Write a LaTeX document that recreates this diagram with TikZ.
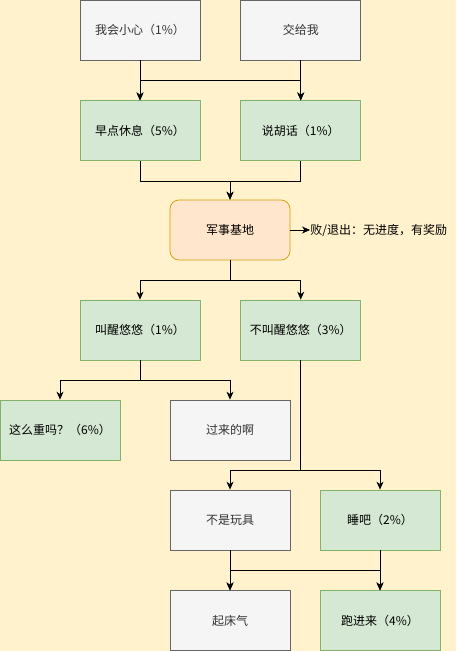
\documentclass[tikz,border=0pt]{standalone}
\usepackage{fontspec}
\setmainfont{Noto Sans CJK SC}
\usetikzlibrary{arrows.meta,positioning}
\definecolor{bgyellow}{HTML}{FFF2CC}
\definecolor{grayfill}{HTML}{F5F5F5}
\definecolor{graydraw}{HTML}{666666}
\definecolor{greenfill}{HTML}{D5E8D4}
\definecolor{greendraw}{HTML}{82B366}
\definecolor{orangefill}{HTML}{FFE6CC}
\definecolor{orangedraw}{HTML}{D79B00}
\definecolor{textgray}{HTML}{333333}
\tikzset{
  box/.style={rectangle,minimum width=120pt,minimum height=60pt,inner sep=0pt,line width=0.75pt,font=\fontsize{12}{14}\selectfont},
  graybox/.style={box,fill=grayfill,draw=graydraw,text=textgray},
  greenbox/.style={box,fill=greenfill,draw=greendraw},
  basebox/.style={box,fill=orangefill,draw=orangedraw,rounded corners=9pt},
}
\begin{document}
\begin{tikzpicture}[x=1pt,y=1pt,-{Stealth[length=8pt,width=7pt,inset=2.5pt]},line width=0.75pt,node distance=40pt]
  \useasboundingbox[fill=bgyellow] (0,0) rectangle (456,-651);
  % top row
  \node[graybox]  (A) at (140,-30)      {我会小心（1\%）};
  \node[graybox]  (B) [right=of A]      {交给我};
  \node[greenbox] (C) [below=of A]      {早点休息（5\%）};
  \node[greenbox] (D) [below=of B]      {说胡话（1\%）};
  \node[basebox]  (E) at (230,-230)     {军事基地};
  \node[anchor=west,inner sep=0pt,font=\fontsize{12}{14}\selectfont] (exit) at (310,-230) {败/退出：无进度，有奖励};
  % after the base
  \node[greenbox] (F) at (140,-330)     {叫醒悠悠（1\%）};
  \node[greenbox] (G) [right=of F]      {不叫醒悠悠（3\%）};
  \node[greenbox] (H) at (60,-430)      {这么重吗？（6\%）};
  \node[graybox]  (I) at (230,-430)     {过来的啊};
  \node[graybox]  (J) at (230,-520)     {不是玩具};
  \node[greenbox] (K) at (380,-520)     {睡吧（2\%）};
  \node[graybox]  (L) [below=of J]      {起床气};
  \node[greenbox] (M) [below=of K]      {跑进来（4\%）};

  \draw (A.south) -- (C.north);
  \draw (A.south) -- ++(0,-20) -| (D.north);
  \draw (B.south) -- (D.north);
  \draw (B.south) -- ++(0,-20) -| (C.north);
  \draw (C.south) -- ++(0,-20) -| (E.north);
  \draw (D.south) -- ++(0,-20) -| (E.north);
  \draw (E) -- (exit);
  \draw (E.south) -- ++(0,-20) -| (F.north);
  \draw (E.south) -- ++(0,-20) -| (G.north);
  \draw (F.south) -- ++(0,-20) -| (H.north);
  \draw (F.south) -- ++(0,-20) -| (I.north);
  \draw (G.south) -- ++(0,-110) -| (J.north);
  \draw (G.south) -- ++(0,-110) -| (K.north);
  \draw (J.south) -- (L.north);
  \draw (J.south) -- ++(0,-20) -| (M.north);
  \draw (K.south) -- (M.north);
  \draw (K.south) -- ++(0,-20) -| (L.north);
\end{tikzpicture}
\end{document}
